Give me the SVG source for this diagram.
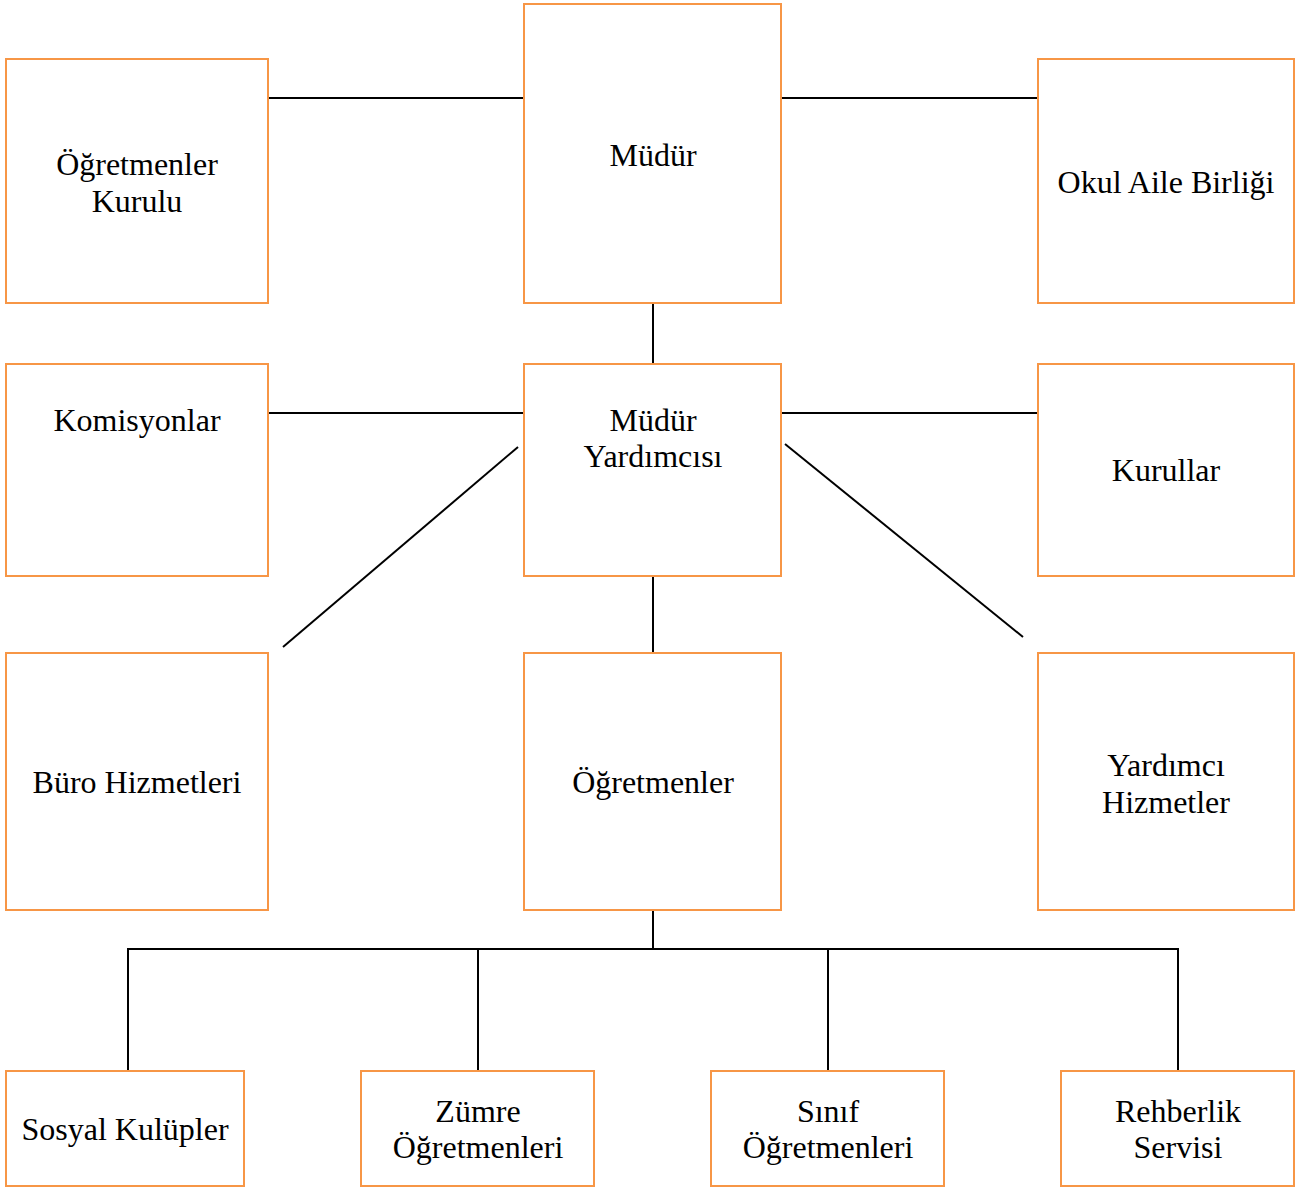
<svg xmlns="http://www.w3.org/2000/svg" width="1298" height="1187" viewBox="0 0 1298 1187">
<style>
.box{fill:#fff;stroke:#F79646;stroke-width:2}
.t{font-family:"Liberation Serif","Times New Roman",serif;font-size:32px;fill:#000;text-anchor:middle}
.c{stroke:#000;stroke-width:2;fill:none}
</style>
<rect width="1298" height="1187" fill="#fff"/>
<g id="connectors">
<line class="c" x1="268" y1="98" x2="524" y2="98"/>
<line class="c" x1="781" y1="98" x2="1038" y2="98"/>
<line class="c" x1="653" y1="303" x2="653" y2="364"/>
<line class="c" x1="268" y1="413" x2="524" y2="413"/>
<line class="c" x1="781" y1="413" x2="1038" y2="413"/>
<line class="c" x1="518" y1="447" x2="283" y2="647"/>
<line class="c" x1="785" y1="444" x2="1023" y2="637"/>
<line class="c" x1="653" y1="576" x2="653" y2="653"/>
<line class="c" x1="653" y1="910" x2="653" y2="949"/>
<polyline class="c" points="128,1071 128,949 1178,949 1178,1071"/>
<line class="c" x1="478" y1="949" x2="478" y2="1071"/>
<line class="c" x1="828" y1="949" x2="828" y2="1071"/>
</g>
<g id="ogretmenler-kurulu"><rect class="box" x="6" y="59" width="262" height="244"/><text class="t" x="137" y="175">Öğretmenler</text><text class="t" x="137" y="212">Kurulu</text></g>
<g id="mudur"><rect class="box" x="524" y="4" width="257" height="299"/><text class="t" x="653" y="166">Müdür</text></g>
<g id="okul-aile-birligi"><rect class="box" x="1038" y="59" width="256" height="244"/><text class="t" x="1166" y="193">Okul Aile Birliği</text></g>
<g id="komisyonlar"><rect class="box" x="6" y="364" width="262" height="212"/><text class="t" x="137" y="431">Komisyonlar</text></g>
<g id="mudur-yardimcisi"><rect class="box" x="524" y="364" width="257" height="212"/><text class="t" x="653" y="431">Müdür</text><text class="t" x="653" y="467">Yardımcısı</text></g>
<g id="kurullar"><rect class="box" x="1038" y="364" width="256" height="212"/><text class="t" x="1166" y="481">Kurullar</text></g>
<g id="buro-hizmetleri"><rect class="box" x="6" y="653" width="262" height="257"/><text class="t" x="137" y="793">Büro Hizmetleri</text></g>
<g id="ogretmenler"><rect class="box" x="524" y="653" width="257" height="257"/><text class="t" x="653" y="793">Öğretmenler</text></g>
<g id="yardimci-hizmetler"><rect class="box" x="1038" y="653" width="256" height="257"/><text class="t" x="1166" y="776">Yardımcı</text><text class="t" x="1166" y="813">Hizmetler</text></g>
<g id="sosyal-kulupler"><rect class="box" x="6" y="1071" width="238" height="115"/><text class="t" x="125" y="1140">Sosyal Kulüpler</text></g>
<g id="zumre-ogretmenleri"><rect class="box" x="361" y="1071" width="233" height="115"/><text class="t" x="478" y="1122">Zümre</text><text class="t" x="478" y="1158">Öğretmenleri</text></g>
<g id="sinif-ogretmenleri"><rect class="box" x="711" y="1071" width="233" height="115"/><text class="t" x="828" y="1122">Sınıf</text><text class="t" x="828" y="1158">Öğretmenleri</text></g>
<g id="rehberlik-servisi"><rect class="box" x="1061" y="1071" width="233" height="115"/><text class="t" x="1178" y="1122">Rehberlik</text><text class="t" x="1178" y="1158">Servisi</text></g>
</svg>
